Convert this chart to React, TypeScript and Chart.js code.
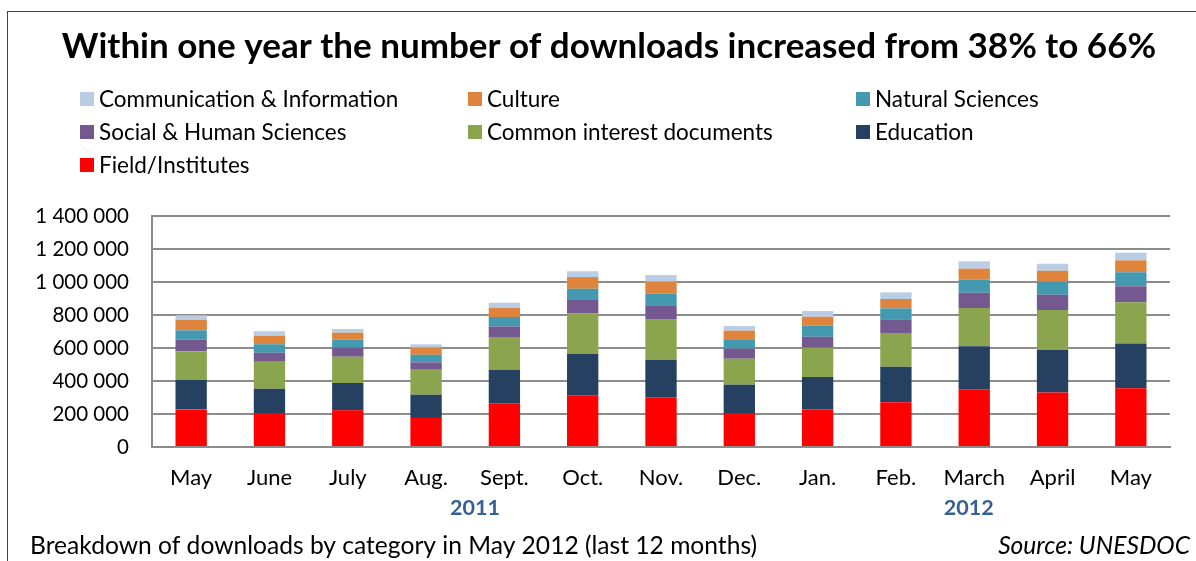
import React, { useEffect, useRef } from "react";
import { Chart, registerables } from "chart.js";

Chart.register(...registerables);

const months = ["May", "June", "July", "Aug.", "Sept.", "Oct.", "Nov.", "Dec.", "Jan.", "Feb.", "March", "April", "May"];
const fieldInstitutes = [228000, 206000, 222000, 176000, 265000, 313000, 301000, 206000, 228000, 271000, 350000, 331000, 356000];
const education = [178000, 147000, 166000, 141000, 203000, 251000, 226000, 172000, 196000, 216000, 260000, 259000, 272000];
const commonInterest = [174000, 164000, 159000, 151000, 199000, 246000, 245000, 157000, 178000, 204000, 232000, 240000, 249000];
const socialHuman = [70000, 54000, 55000, 45000, 64000, 81000, 87000, 61000, 66000, 79000, 93000, 93000, 97000];
const naturalSciences = [57000, 51000, 48000, 46000, 57000, 68000, 72000, 57000, 67000, 70000, 79000, 79000, 85000];
const culture = [64000, 53000, 43000, 43000, 56000, 71000, 71000, 52000, 55000, 57000, 67000, 66000, 72000];
const commInfo = [27000, 26000, 22000, 20000, 31000, 35000, 40000, 28000, 34000, 40000, 44000, 43000, 47000];

const yearLabels = ["2011", "2012"];
const yearPositions = [3.625, 9.93];

const titleText = "Within one year the number of downloads increased from 38% to 66%";
const footerLeft = "Breakdown of downloads by category in May 2012 (last 12 months)";
const footerRight = "Source: UNESDOC";

const seriesLabels = [
  "Field/Institutes",
  "Education",
  "Common interest documents",
  "Social & Human Sciences",
  "Natural Sciences",
  "Culture",
  "Communication & Information",
];
const seriesData = [fieldInstitutes, education, commonInterest, socialHuman, naturalSciences, culture, commInfo];
const seriesColors = ["#FF0000", "#254061", "#8AA54D", "#73598F", "#4399B0", "#DE843D", "#B9CDE5"];

const FONT = "Lato, 'Open Sans', sans-serif";

const W = 1188;
const H = 549;

const decorPlugin = {
  id: "decor",
  afterDraw(chart: any) {
    const ctx = chart.ctx as CanvasRenderingContext2D;
    ctx.save();
    // title
    ctx.fillStyle = "#000";
    ctx.font = `bold 35px ${FONT}`;
    ctx.textAlign = "center";
    ctx.textBaseline = "middle";
    ctx.fillText(titleText, 601, 35);

    // legend (reverse order, 3 columns)
    const colX = [72, 460, 848];
    const rowY = [87, 120, 153];
    ctx.font = `22.5px ${FONT}`;
    ctx.textAlign = "left";
    const n = seriesLabels.length;
    for (let i = 0; i < n; i++) {
      const idx = n - 1 - i;
      const c = i % 3;
      const r = Math.floor(i / 3);
      ctx.fillStyle = seriesColors[idx];
      ctx.fillRect(colX[c], rowY[r] - 7, 14, 14);
      ctx.fillStyle = "#000";
      ctx.fillText(seriesLabels[idx], colX[c] + 19, rowY[r] + 1);
    }

    // year labels
    const xs = chart.scales.x;
    ctx.font = `bold 21.5px ${FONT}`;
    ctx.fillStyle = "#376092";
    ctx.textAlign = "center";
    for (let i = 0; i < yearLabels.length; i++) {
      ctx.fillText(yearLabels[i], xs.getPixelForValue(yearPositions[i]), 496);
    }

    // footer
    ctx.fillStyle = "#000";
    ctx.font = `24.6px ${FONT}`;
    ctx.textAlign = "left";
    ctx.fillText(footerLeft, 22, 534);
    ctx.font = `italic 24.6px ${FONT}`;
    ctx.textAlign = "right";
    ctx.fillText(footerRight, 1182, 534);
    ctx.restore();
  },
};

export default function App() {
  const ref = useRef<HTMLCanvasElement | null>(null);

  useEffect(() => {
    if (!ref.current) return;
    const chart = new Chart(ref.current, {
      type: "bar",
      data: {
        labels: months,
        datasets: seriesLabels.map((label, i) => ({
          label,
          data: seriesData[i],
          backgroundColor: seriesColors[i],
          borderWidth: 0,
          categoryPercentage: 1,
          barPercentage: 0.4,
        })),
      },
      options: {
        responsive: false,
        animation: false,
        layout: { padding: { top: 204, left: 0, right: 26, bottom: 0 } },
        plugins: {
          legend: { display: false },
          title: { display: false },
          tooltip: { enabled: false },
        },
        scales: {
          x: {
            stacked: true,
            grid: { display: false, drawTicks: false },
            border: { display: true, color: "#8C8C8C", width: 2 },
            ticks: { color: "#000", font: { family: FONT, size: 22 }, padding: 18, maxRotation: 0, autoSkip: false },
            afterFit(scale: any) {
              scale.height = 114;
            },
          },
          y: {
            stacked: true,
            min: 0,
            max: 1400000,
            ticks: {
              stepSize: 200000,
              color: "#000",
              font: { family: FONT, size: 20.5 },
              padding: 23,
              callback: (v: any) => String(v).replace(/\B(?=(\d{3})+(?!\d))/g, " "),
            },
            grid: { color: "#8C8C8C", lineWidth: 2, drawTicks: false },
            border: { display: true, color: "#8C8C8C", width: 2 },
            afterFit(scale: any) {
              scale.width = 144;
            },
          },
        },
      },
      plugins: [decorPlugin],
    });
    return () => chart.destroy();
  }, []);

  return (
    <div
      style={{
        position: "absolute",
        left: 7,
        top: 11,
        width: 1189,
        height: 550,
        borderLeft: "1px solid #444",
        borderTop: "1px solid #444",
        background: "#fff",
      }}
    >
      <canvas ref={ref} width={W} height={H} style={{ display: "block", width: W, height: H }} />
    </div>
  );
}
